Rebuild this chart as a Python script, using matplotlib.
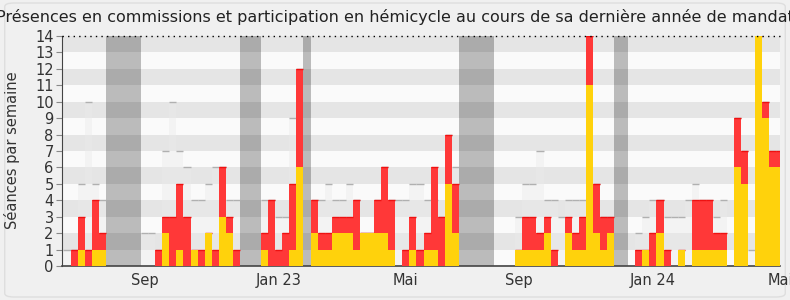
import numpy as np
import matplotlib
matplotlib.use("Agg")
import matplotlib.pyplot as plt
from matplotlib.patches import FancyBboxPatch

# Données hebdomadaires (une valeur par semaine)
semaines_total = [1, 1, 5, 10, 5, 4, 0, 0, 0, 0, 0, 2, 2, 1, 7, 10, 7, 6, 4, 4,
                  5, 6, 6, 4, 4, 0, 0, 0, 4, 4, 3, 3, 9, 12, 0, 4, 4, 5, 4, 4,
                  5, 4, 2, 2, 4, 6, 4, 4, 4, 5, 5, 4, 4, 3, 8, 6, 0, 0, 0, 0,
                  0, 0, 0, 0, 3, 5, 5, 7, 4, 4, 3, 4, 4, 4, 14, 5, 3, 3, 0, 0,
                  0, 2, 3, 4, 4, 3, 3, 3, 4, 5, 4, 4, 3, 4, 0, 9, 7, 1, 14, 10,
                  7, 7]
commissions = [0, 1, 3, 1, 4, 2, 0, 0, 0, 0, 0, 0, 0, 1, 3, 3, 5, 3, 1, 1,
               2, 1, 6, 3, 1, 0, 0, 0, 2, 4, 1, 2, 5, 12, 0, 4, 2, 2, 3, 3,
               3, 4, 2, 2, 4, 6, 4, 0, 1, 3, 1, 2, 6, 3, 8, 5, 0, 0, 0, 0,
               0, 0, 0, 0, 1, 3, 3, 2, 3, 1, 0, 3, 2, 3, 14, 5, 3, 3, 0, 0,
               0, 1, 1, 2, 4, 1, 0, 1, 0, 4, 4, 4, 2, 2, 0, 9, 7, 0, 14, 10,
               7, 7]
hemicycle = [0, 0, 1, 0, 1, 1, 0, 0, 0, 0, 0, 0, 0, 0, 2, 0, 1, 0, 1, 0,
             2, 0, 3, 2, 0, 0, 0, 0, 1, 0, 0, 0, 1, 6, 0, 2, 1, 1, 2, 2,
             2, 1, 2, 2, 2, 2, 1, 0, 0, 1, 0, 1, 1, 0, 5, 2, 0, 0, 0, 0,
             0, 0, 0, 0, 1, 1, 1, 1, 2, 0, 0, 2, 1, 1, 11, 2, 1, 2, 0, 0,
             0, 0, 1, 0, 2, 0, 0, 1, 0, 1, 1, 1, 1, 1, 0, 6, 5, 0, 14, 9,
             6, 6]

# Périodes de vacances parlementaires (indices de semaine début, fin)
vacances = [(-1, 0), (6, 11), (25, 28), (34, 35), (56, 61), (78, 80)]

mois_labels = ["Sep", "Jan 23", "Mai", "Sep", "Jan 24", "Mai"]
mois_pos = [11.5, 30.5, 48.4, 64.5, 83.5, 101.5]

titre = ("Présences en commissions et participation en hémicycle "
         "au cours de sa dernière année de mandat")

fig = plt.figure(figsize=(7.9, 3.0), dpi=100)
fig.patch.set_facecolor("#f0f0f0")
cadre = FancyBboxPatch((0.006, 0.01), 0.988, 0.98,
                       boxstyle="round,pad=0,rounding_size=0.012",
                       transform=fig.transFigure, facecolor="none",
                       edgecolor="#dedede", linewidth=1, zorder=-10)
fig.patches.append(cadre)

ax = fig.add_axes([62 / 790, 34 / 300, 718 / 790, 230 / 300])
ax.set_facecolor("#fafafa")

# Bandes horizontales alternées
for y in range(1, 14, 2):
    ax.axhspan(y, y + 1, color="#e5e5e5", zorder=0, lw=0)

# Vacances
for debut, fin in vacances:
    ax.axvspan(debut, fin, color="black", alpha=0.25, lw=0, zorder=1)

x = np.arange(len(commissions))

# Semaines de référence (barres claires)
ax.bar(x, semaines_total, width=1, align="edge", color=(0.92, 0.92, 0.92, 0.45),
       lw=0, zorder=2)
ax.hlines(semaines_total, x, x + 1, color="#b0b0b0", lw=1, zorder=2.5)

ax.bar(x, commissions, width=1, align="edge", color="#ff3838", lw=0, zorder=3)
ax.hlines([c if c > 0 else np.nan for c in commissions], x, x + 1,
          color="#ee1111", lw=1, zorder=3.5)
ax.bar(x, hemicycle, width=1, align="edge", color="#ffd20c", lw=0, zorder=4)

ax.set_xlim(-0.21, 101.5)
ax.set_ylim(0, 14)
ax.axhline(14, color="black", ls=(0, (1, 3)), lw=1, zorder=5, clip_on=False)

ax.set_yticks(range(15))
ax.tick_params(axis="y", labelsize=10.5, length=4, color="#888888", labelcolor="#333333", pad=2)
ax.set_xticks(mois_pos)
ax.set_xticklabels(mois_labels)
ax.tick_params(axis="x", labelsize=10.5, length=0, labelcolor="#333333", pad=5)

for s in ["top", "right"]:
    ax.spines[s].set_visible(False)
ax.spines["left"].set_color("#444444")
ax.spines["bottom"].set_color("#444444")
ax.spines["bottom"].set_linewidth(1.2)

fig.text(12 / 790, 0.5, "Séances par semaine", rotation=90, ha="center",
         va="center", fontsize=10.5, color="#333333")
fig.text(0.5, 1 - 17 / 300, titre, ha="center", va="center", fontsize=11.55,
         color="#222222")

plt.savefig("out.png", dpi=100, facecolor=fig.get_facecolor())
plt.close()
